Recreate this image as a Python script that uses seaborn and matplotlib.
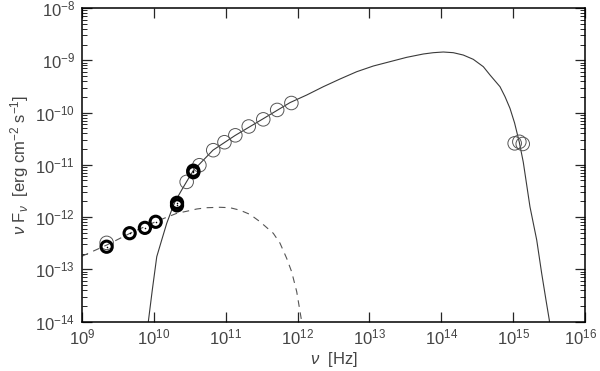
import numpy as np
import pandas as pd
import seaborn as sns
import matplotlib
matplotlib.use('Agg')
import matplotlib.pyplot as plt
import matplotlib.transforms as mtransforms
from matplotlib.ticker import LogLocator, FixedLocator, NullLocator

# Model curves (log10 nu, log10 nuFnu)
solid_lognu = [9.923, 9.978, 10.040, 10.109, 10.179, 10.248, 10.294, 10.387, 10.457, 10.549,
               10.823, 11.13, 11.52, 11.895, 12.127, 12.358, 12.59, 12.823, 13.054, 13.286,
               13.518, 13.75, 13.889, 14.028, 14.167, 14.306, 14.445, 14.585, 14.678, 14.817,
               14.887, 14.956, 15.02, 15.085, 15.141, 15.234, 15.328, 15.397, 15.457, 15.503, 15.52]
solid_logf = [-14.0, -13.397, -12.76, -12.44, -12.12, -11.866, -11.707, -11.483, -11.32, -11.11,
              -10.72, -10.44, -10.12, -9.81, -9.665, -9.506, -9.359, -9.219, -9.11, -9.027,
              -8.944, -8.88, -8.855, -8.842, -8.855, -8.90, -8.982, -9.123, -9.282, -9.506,
              -9.697, -9.92, -10.2, -10.565, -10.95, -11.803, -12.44, -13.078, -13.589, -13.97, -14.2]

dashed_lognu = [9.0, 9.344, 9.668, 10.04, 10.318, 10.457, 10.596, 10.735, 10.92, 11.06,
                11.199, 11.338, 11.477, 11.662, 11.755, 11.848, 11.918, 11.988, 12.057, 12.07]
dashed_logf = [-12.75, -12.536, -12.312, -12.08, -11.93, -11.89, -11.847, -11.822, -11.814, -11.822,
               -11.87, -11.95, -12.09, -12.312, -12.5, -12.79, -13.05, -13.43, -14.0, -14.2]

# Measurements
black_nu = [2.2e9, 4.6e9, 7.5e9, 1.06e10, 2.1e10, 2.1e10, 3.54e10, 3.54e10]
black_f = [2.7e-13, 4.9e-13, 6.2e-13, 8.1e-13, 1.87e-12, 1.67e-12, 7.7e-12, 7.2e-12]

gray_nu = [2.2e9, 2.86e10, 4.3e10, 6.7e10, 9.6e10, 1.36e11, 2.09e11, 3.33e11, 5.2e11, 8.2e11,
           1.05e15, 1.22e15, 1.36e15]
gray_f = [3.2e-13, 4.7e-12, 9.8e-12, 1.9e-11, 2.7e-11, 3.66e-11, 5.4e-11, 7.4e-11, 1.12e-10, 1.52e-10,
          2.57e-11, 2.75e-11, 2.5e-11]

xtick_exp = list(range(9, 17))
ytick_exp = list(range(-14, -7))

sns.set_style('ticks')
plt.rcParams['font.family'] = ['Liberation Sans', 'DejaVu Sans']
plt.rcParams['mathtext.fontset'] = 'custom'
plt.rcParams['mathtext.rm'] = 'Liberation Sans'
plt.rcParams['mathtext.it'] = 'Liberation Sans:italic'
plt.rcParams['mathtext.bf'] = 'Liberation Sans:bold'

fig = plt.figure(figsize=(6, 3.71), dpi=100)
ax = fig.add_axes([0.1367, 0.1334, 0.975 - 0.1367, 0.9784 - 0.1334])
ax.set_xscale('log')
ax.set_yscale('log')

solid = pd.DataFrame({'nu': 10.0 ** np.array(solid_lognu), 'f': 10.0 ** np.array(solid_logf)})
dashed = pd.DataFrame({'nu': 10.0 ** np.array(dashed_lognu), 'f': 10.0 ** np.array(dashed_logf)})

sns.lineplot(data=solid, x='nu', y='f', ax=ax, sort=False, estimator=None,
             color='#3a3a3a', linewidth=0.8)
sns.lineplot(data=dashed, x='nu', y='f', ax=ax, sort=False, estimator=None,
             color='#555555', linewidth=0.8, linestyle=(0, (6, 5)))

gray = pd.DataFrame({'nu': gray_nu, 'f': gray_f})
black = pd.DataFrame({'nu': black_nu, 'f': black_f})
sns.scatterplot(data=gray, x='nu', y='f', ax=ax, marker='o', s=95,
                facecolor='none', edgecolor='#555555', linewidth=0.7, zorder=4)
sns.scatterplot(data=black, x='nu', y='f', ax=ax, marker='o', s=65,
                facecolor='none', edgecolor='black', linewidth=2.2, zorder=5)
sns.scatterplot(data=black, x='nu', y='f', ax=ax, marker='.', s=5,
                color='black', linewidth=0, zorder=6)

ax.set_xlim(1e9, 1e16)
ax.set_ylim(1e-14, 1e-8)

ax.xaxis.set_major_locator(FixedLocator([10.0 ** e for e in xtick_exp]))
ax.xaxis.set_minor_locator(NullLocator())
ax.set_xticklabels([f'$10^{{{e}}}$' for e in xtick_exp])
ax.yaxis.set_major_locator(FixedLocator([10.0 ** e for e in ytick_exp]))
ax.yaxis.set_minor_locator(LogLocator(base=10, subs=np.arange(2, 10), numticks=20))
ax.set_yticklabels([f'$10^{{{e}}}$' for e in ytick_exp])

ax.tick_params(which='major', direction='in', length=7, width=0.9, top=True, right=True,
               labelsize=12, labelcolor='#444444')
ax.tick_params(axis='x', which='major', pad=4)
ax.tick_params(axis='y', which='major', pad=5)
ax.tick_params(which='minor', direction='in', length=3.5, width=0.7, top=True, right=True)
for s in ax.spines.values():
    s.set_linewidth(1.1)
    s.set_color('black')

# keep the last x label inside the canvas
last = ax.get_xticklabels()[-1]
last.set_transform(last.get_transform() + mtransforms.ScaledTranslation(-4 / 100, 0, fig.dpi_scale_trans))

ax.set_xlabel(r'$\nu$  [Hz]', fontsize=12, color='#444444', labelpad=2)
ax.set_ylabel(r'$\nu$ F$_\nu$  [erg cm$^{-2}$ s$^{-1}$]', fontsize=12, color='#444444', labelpad=3)

fig.savefig('out.png', dpi=100)
